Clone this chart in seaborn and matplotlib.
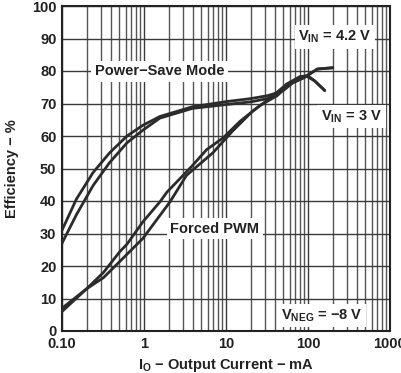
import matplotlib
matplotlib.use("Agg")
import matplotlib.pyplot as plt
import seaborn as sns
import numpy as np
from matplotlib.ticker import FixedLocator, NullFormatter

sns.set_style("white")
plt.rcParams['font.family'] = ['Liberation Sans', 'DejaVu Sans']

# Data (current in mA, efficiency in %)
psm42_i = [0.1, 0.15, 0.24, 0.38, 0.62, 0.97, 1.56, 3.9, 10.2, 20, 32, 46, 60, 90, 130, 200]
psm42_e = [31, 40.6, 48.8, 54.8, 60, 63.3, 66, 69, 70.6, 71.5, 72.4, 73.6, 76, 78, 80.6, 81]

psm3_i = [0.1, 0.15, 0.24, 0.38, 0.62, 0.97, 1.56, 3.9, 10.2, 20, 32, 50, 70, 95, 120, 160]
psm3_e = [27, 35.8, 44.8, 51.8, 57.9, 61.8, 65.5, 68.5, 69.7, 70.5, 71.5, 74, 77, 78.5, 77, 74]

pwm42_i = [0.1, 0.2, 0.32, 0.51, 0.62, 0.97, 1.56, 1.9, 3.9, 5.8, 9.2, 14.8, 26, 42, 60, 90, 130, 200]
pwm42_e = [7, 13, 18, 24.5, 26.7, 33.6, 39.7, 42.7, 50.9, 55.8, 59.4, 64.5, 69.4, 72.4, 76, 78, 80.6, 81]

pwm3_i = [0.1, 0.2, 0.32, 0.62, 0.97, 2.07, 3.3, 6.9, 12, 21, 34, 55, 80, 100, 120, 160]
pwm3_e = [6, 13, 16.4, 23.6, 28.5, 39.7, 47.9, 54.8, 61.5, 67.6, 71.5, 76, 78.3, 78.5, 77, 74]

x_ticks = [0.1, 1, 10, 100, 1000]
x_tick_labels = ["0.10", "1", "10", "100", "1000"]
y_ticks = list(range(0, 101, 10))

fig = plt.figure(figsize=(4.02, 3.73), dpi=100)
ax = fig.add_axes([62/402, 1-331/373, 328/402, 325/373])

ax.set_xscale("log")
ax.set_xlim(0.1, 1000)
ax.set_ylim(0, 100)

minor = [m * 10.0**d for d in range(-1, 3) for m in range(2, 10)]
ax.xaxis.set_major_locator(FixedLocator(x_ticks))
ax.xaxis.set_minor_locator(FixedLocator(minor))
ax.xaxis.set_minor_formatter(NullFormatter())
ax.set_xticks(x_ticks)
ax.set_xticklabels(x_tick_labels)
ax.set_yticks(y_ticks)

ax.grid(True, which="major", color="#3a3a3a", lw=1.0)
ax.grid(True, which="minor", axis="x", color="#555555", lw=1.0)
ax.set_axisbelow(True)

for xi, yi in [(psm42_i, psm42_e), (psm3_i, psm3_e), (pwm42_i, pwm42_e), (pwm3_i, pwm3_e)]:
    sns.lineplot(x=xi, y=yi, ax=ax, color="#2b2b2b", lw=2.0, sort=False, estimator=None, zorder=5)

for s in ax.spines.values():
    s.set_color("#222222")
    s.set_linewidth(1.5)

ax.tick_params(axis="both", which="both", length=0, labelsize=10.5, pad=4, colors="#222222")
for lab in ax.get_xticklabels() + ax.get_yticklabels():
    lab.set_fontweight("bold")

ax.set_xlabel("I$_\\mathregular{O}$ − Output Current − mA", fontsize=10.5, fontweight="bold", color="#222222", labelpad=5)
ax.set_ylabel("Efficiency − %", fontsize=10.5, fontweight="bold", color="#222222", labelpad=9)

box = dict(facecolor="white", edgecolor="none", pad=2.5)
tkw = dict(fontsize=10.5, fontweight="bold", color="#222222", va="center", zorder=6, bbox=box)
ax.text(1.55, 80, "Power−Save Mode", ha="center", **tkw)
ax.text(600, 90.5, "V$_\\mathregular{IN}$ = 4.2 V", ha="right", **tkw)
ax.text(800, 66, "V$_\\mathregular{IN}$ = 3 V", ha="right", **tkw)
ax.text(2.1, 31.5, "Forced PWM", ha="left", **tkw)
ax.text(47, 4.8, "V$_\\mathregular{NEG}$ = −8 V", ha="left", **tkw)

fig.savefig("out.png", dpi=100)
